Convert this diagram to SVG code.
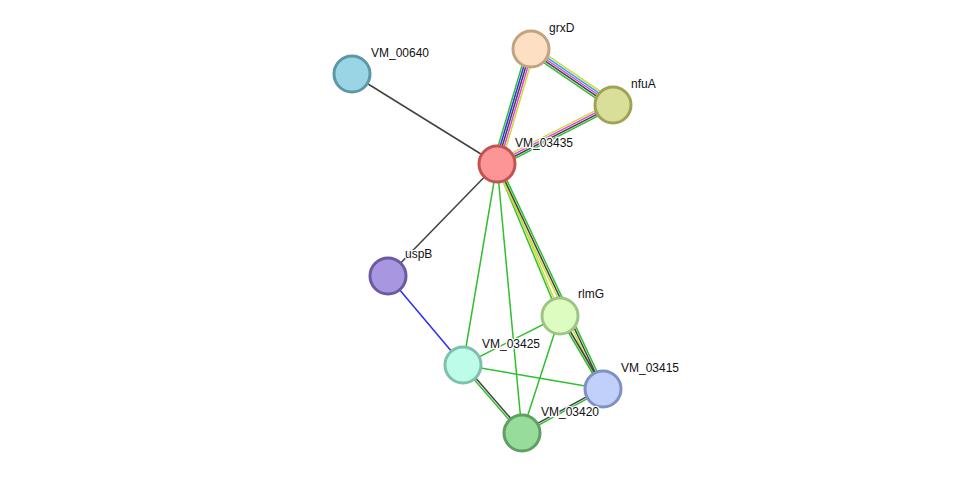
<svg xmlns="http://www.w3.org/2000/svg" width="975" height="479" viewBox="0 0 975 479">
<style>
line{stroke-width:1.5}
.k{stroke:#424242}.g{stroke:#2fbf2f}.b{stroke:#2c2cf5}.m{stroke:#e23ee2}.y{stroke:#c9dc3a}.c{stroke:#2aa9e0}
circle{stroke-width:3}
text{font-family:"Liberation Sans",Arial,sans-serif;font-size:12px;fill:#111;stroke:#fff;stroke-width:2.5;paint-order:stroke;stroke-linejoin:round}
</style>
<rect width="975" height="479" fill="#fff"/>
<g id="connectors">
<line class="k" x1="352" y1="74" x2="497" y2="164"/>
<line class="g" x1="527.2" y1="47.9" x2="493.2" y2="162.9"/>
<line class="b" x1="529.1" y1="48.4" x2="495.1" y2="163.4"/>
<line class="k" x1="531" y1="49" x2="497" y2="164"/>
<line class="m" x1="532.9" y1="49.6" x2="498.9" y2="164.6"/>
<line class="y" x1="534.8" y1="50.1" x2="500.8" y2="165.1"/>
<line class="y" x1="533.3" y1="45.7" x2="615.3" y2="101.7"/>
<line class="c" x1="532.1" y1="47.3" x2="614.1" y2="103.3"/>
<line class="m" x1="531" y1="49" x2="613" y2="105"/>
<line class="k" x1="529.9" y1="50.7" x2="611.9" y2="106.7"/>
<line class="g" x1="528.7" y1="52.3" x2="610.7" y2="108.3"/>
<line class="y" x1="611.6" y1="102.3" x2="495.6" y2="161.3"/>
<line class="m" x1="612.5" y1="104.1" x2="496.5" y2="163.1"/>
<line class="k" x1="613.5" y1="105.9" x2="497.5" y2="164.9"/>
<line class="g" x1="614.4" y1="107.7" x2="498.4" y2="166.7"/>
<line class="y" x1="497.9" y1="163.6" x2="560.9" y2="315.6"/>
<line class="g" x1="496.1" y1="164.4" x2="559.1" y2="316.4"/>
<line class="g" x1="498.8" y1="163.1" x2="604.8" y2="388.1"/>
<line class="k" x1="497" y1="164" x2="603" y2="389"/>
<line class="y" x1="495.2" y1="164.9" x2="601.2" y2="389.9"/>
<line class="k" x1="497" y1="164" x2="388" y2="276"/>
<line class="g" x1="497" y1="164" x2="463" y2="365"/>
<line class="g" x1="497" y1="164" x2="522" y2="433"/>
<line class="b" x1="388" y1="276" x2="463" y2="365"/>
<line class="g" x1="560" y1="316" x2="463" y2="365"/>
<line class="g" x1="560" y1="316" x2="522" y2="433"/>
<line class="g" x1="559.1" y1="316.5" x2="602.1" y2="389.5"/>
<line class="k" x1="560.9" y1="315.5" x2="603.9" y2="388.5"/>
<line class="g" x1="463" y1="365" x2="603" y2="389"/>
<line class="k" x1="463.8" y1="364.3" x2="522.8" y2="432.3"/>
<line class="g" x1="462.2" y1="365.7" x2="521.2" y2="433.7"/>
<line class="k" x1="602.5" y1="388.1" x2="521.5" y2="432.1"/>
<line class="g" x1="603.5" y1="389.9" x2="522.5" y2="433.9"/>
</g>
<g id="VM_00640"><circle cx="352" cy="74" r="18" fill="#99d5e5" stroke="#5f97a8"/><text x="371" y="57">VM_00640</text></g>
<g id="grxD"><circle cx="531" cy="49" r="18" fill="#fde0c4" stroke="#c2a37f"/><text x="549" y="32">grxD</text></g>
<g id="nfuA"><circle cx="613" cy="105" r="18" fill="#d9df99" stroke="#9fa356"/><text x="631" y="88">nfuA</text></g>
<g id="VM_03435"><circle cx="497" cy="164" r="18" fill="#fc9696" stroke="#c45252"/><text x="515" y="147">VM_03435</text></g>
<g id="uspB"><circle cx="388" cy="276" r="18" fill="#a996e0" stroke="#6b5aa1"/><text x="405" y="258">uspB</text></g>
<g id="rlmG"><circle cx="560" cy="316" r="18" fill="#dcfcc0" stroke="#9ec486"/><text x="578" y="298">rlmG</text></g>
<g id="VM_03425"><circle cx="463" cy="365" r="18" fill="#befcea" stroke="#7ec0aa"/><text x="482" y="348">VM_03425</text></g>
<g id="VM_03415"><circle cx="603" cy="389" r="18" fill="#c0d0fb" stroke="#7f91c4"/><text x="621" y="372">VM_03415</text></g>
<g id="VM_03420"><circle cx="522" cy="433" r="18" fill="#98dc9c" stroke="#5ea062"/><text x="541" y="416">VM_03420</text></g>
</svg>
